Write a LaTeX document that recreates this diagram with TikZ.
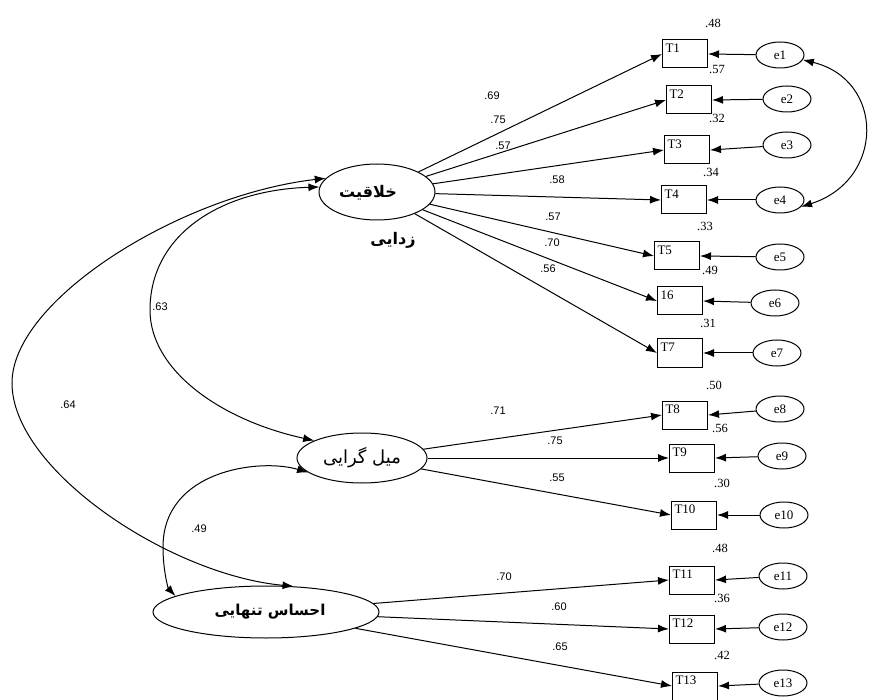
\documentclass[tikz,border=0pt]{standalone}
\usepackage{fontspec}
\setmainfont{Liberation Serif}
\newfontfamily\numsans{Liberation Sans}
\newfontfamily\arabicfont[Script=Arabic]{DejaVu Sans}
\TeXXeTstate=1
\usetikzlibrary{arrows.meta,shapes.geometric}
\begin{document}
\begin{tikzpicture}[x=1pt,y=-1pt,
  tbox/.style={draw, line width=1pt, minimum width=45pt, minimum height=28pt, inner sep=0pt,
    text width=39pt, align=left, text height=9pt, text depth=12pt, font=\fontsize{13}{13}\selectfont},
  err/.style={draw, ellipse, line width=1pt, minimum width=48pt, minimum height=26pt, inner sep=0pt,
    font=\fontsize{13}{13}\selectfont},
  lat/.style={draw, ellipse, line width=1pt, inner sep=0pt},
  arr/.style={-{Latex[length=11pt,width=8pt]}, line width=1pt},
  dbl/.style={{Latex[length=11pt,width=8pt]}-{Latex[length=11pt,width=8pt]}, line width=1pt},
  lnum/.style={font=\numsans\fontsize{11}{11}\selectfont, inner sep=0pt},
  rnum/.style={font=\fontsize{12.5}{12.5}\selectfont, inner sep=0pt},
  ptext/.style={font=\arabicfont\fontsize{14}{16}\selectfont, inner sep=0pt}
]
\useasboundingbox (0,0) rectangle (875,700);

% latent variables
\node[lat, minimum width=116pt, minimum height=56pt] (l1) at (377,192) {};
\node[ptext, font=\arabicfont\bfseries\fontsize{16}{18}\selectfont] (l1a) at (368,193) {\beginR خلاقیت\endR};
\node[ptext, font=\arabicfont\bfseries\fontsize{16}{18}\selectfont] (l1b) at (393,240) {\beginR زدایی\endR};
\node[lat, minimum width=130pt, minimum height=50pt] (l2) at (362,458) {};
\node[ptext, font=\arabicfont\fontsize{18}{20}\selectfont] (l2a) at (362,458) {\beginR میل گرایی\endR};
\node[lat, minimum width=226pt, minimum height=52pt] (l3) at (266,612) {};
\node[ptext, font=\arabicfont\bfseries\fontsize{15}{17}\selectfont] (l3a) at (270,612) {\beginR احساس تنهایی\endR};

% observed boxes
\node[tbox] (t1) at (685,54) {T1};
\node[tbox] (t2) at (689,100) {T2};
\node[tbox] (t3) at (687,150) {T3};
\node[tbox] (t4) at (684,200) {T4};
\node[tbox] (t5) at (677,256) {T5};
\node[tbox] (t6) at (680,301) {16};
\node[tbox] (t7) at (680,353) {T7};
\node[tbox] (t8) at (685,415) {T8};
\node[tbox] (t9) at (692,458) {T9};
\node[tbox] (t10) at (694,515) {T10};
\node[tbox] (t11) at (692,580) {T11};
\node[tbox] (t12) at (692,629) {T12};
\node[tbox] (t13) at (695,686) {T13};

% error terms
\node[err] (e1) at (780,55) {e1};
\node[err] (e2) at (787,99) {e2};
\node[err] (e3) at (787,145) {e3};
\node[err] (e4) at (780,200) {e4};
\node[err] (e5) at (780,257) {e5};
\node[err] (e6) at (775,303) {e6};
\node[err] (e7) at (777,353) {e7};
\node[err] (e8) at (780,409) {e8};
\node[err] (e9) at (782,456) {e9};
\node[err] (e10) at (784,515) {e10};
\node[err] (e11) at (783,576) {e11};
\node[err] (e12) at (783,627) {e12};
\node[err] (e13) at (783,683) {e13};

% error arrows
\foreach \i in {1,...,13} {
  \draw[arr] (e\i) -- (t\i.east);
}

% loadings
\foreach \i in {1,...,7} {
  \draw[arr] (l1) -- (t\i.west);
}
\foreach \i in {8,9,10} {
  \draw[arr] (l2) -- (t\i.west);
}
\foreach \i in {11,12,13} {
  \draw[arr] (l3) -- (t\i.west);
}

% covariances
\draw[dbl] (l1.165) .. controls (180,195) and (12,300) .. (12,383)
  .. controls (12,470) and (170,575) .. (l3.43);
\draw[dbl] (l1.175) .. controls (220,190) and (150,235) .. (150,310)
  .. controls (150,370) and (220,420) .. (l2.160);
\draw[dbl] (l2.195) .. controls (260,458) and (163,470) .. (163,547)
  .. controls (163,570) and (168,588) .. (l3.170);
\draw[dbl] (e1.-12) .. controls (885,80) and (885,180) .. (e4.-18);

% loading labels
\node[lnum] (n1) at (492,96) {.69};
\node[lnum] (n2) at (498,120) {.75};
\node[lnum] (n3) at (503,146) {.57};
\node[lnum] (n4) at (557,180) {.58};
\node[lnum] (n5) at (553,217) {.57};
\node[lnum] (n6) at (552,243) {.70};
\node[lnum] (n7) at (548,269) {.56};
\node[lnum] (n8) at (498,411) {.71};
\node[lnum] (n9) at (555,441) {.75};
\node[lnum] (n10) at (557,478) {.55};
\node[lnum] (n11) at (504,577) {.70};
\node[lnum] (n12) at (559,607) {.60};
\node[lnum] (n13) at (560,647) {.65};
\node[lnum] (c1) at (160,307) {.63};
\node[lnum] (c2) at (68,405) {.64};
\node[lnum] (c3) at (199,529) {.49};

% R-squared labels
\node[rnum] (r1) at (713,23) {.48};
\node[rnum] (r2) at (717,70) {.57};
\node[rnum] (r3) at (717,118) {.32};
\node[rnum] (r4) at (711,172) {.34};
\node[rnum] (r5) at (705,226) {.33};
\node[rnum] (r6) at (710,270) {.49};
\node[rnum] (r7) at (708,323) {.31};
\node[rnum] (r8) at (714,385) {.50};
\node[rnum] (r9) at (720,428) {.56};
\node[rnum] (r10) at (722,483) {.30};
\node[rnum] (r11) at (720,548) {.48};
\node[rnum] (r12) at (722,598) {.36};
\node[rnum] (r13) at (722,655) {.42};
\end{tikzpicture}
\end{document}
